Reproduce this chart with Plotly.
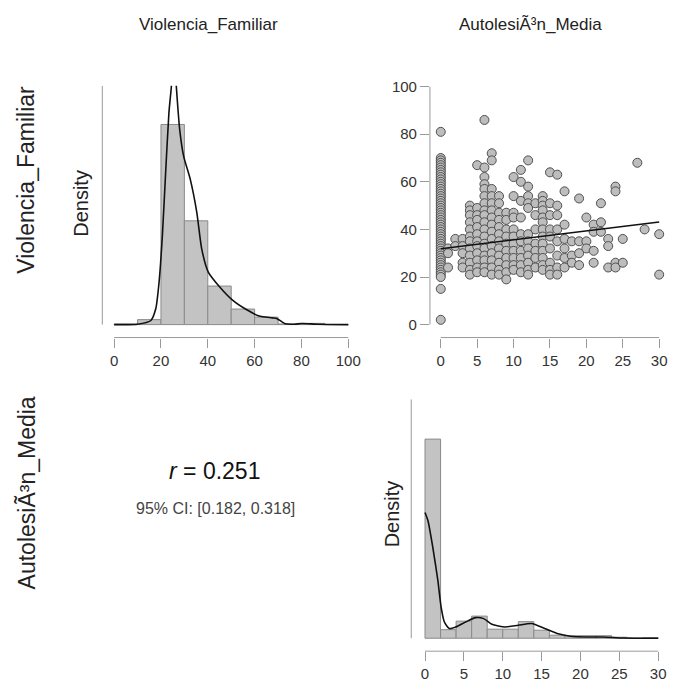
import plotly.graph_objects as go

W, H = 681, 691

# ---------------- data ----------------
# Violencia_Familiar histogram (bin width 10)
vf_bin_left = [0, 10, 20, 30, 40, 50, 60, 70, 80, 90]
vf_counts = [1, 8, 322, 167, 62, 25, 12, 1, 2, 0]
vf_bin_width = 10

# Violencia_Familiar density curve
vf_dens_x = [0, 10, 15.7, 17.8, 19.2, 20.6, 22, 23.4, 24.4, 25.5, 26.6, 28, 29.7, 32.5,
             35.3, 37.4, 40.2, 45.1, 50.7, 56.3, 61.9, 67.5, 69.6, 73.1, 77, 80.1, 87, 100]
vf_dens_y = [0.0, 0.0001, 0.0011, 0.0043, 0.0114, 0.0238, 0.0408, 0.0568, 0.0635, 0.0745,
             0.0635, 0.0523, 0.0451, 0.0390, 0.0301, 0.0203, 0.0141, 0.0101, 0.0065, 0.0041,
             0.0023, 0.0018, 0.0016, 0.0002, 0.0001, 0.0003, 0.0001, 0.0]

# Autolesion_Media histogram (bin width 2)
am_bin_left = [0, 2, 4, 6, 8, 10, 12, 14, 16, 18, 20, 22, 24, 26, 28]
am_counts = [396, 17, 34, 44, 18, 18, 33, 16, 6, 5, 5, 5, 2, 0, 1]
am_bin_width = 2

am_dens_x = [0, 0.38, 1.0, 1.65, 2.07, 2.49, 3.12, 3.96, 5.23, 6.5, 7.55, 8.6, 10.3, 12.0,
             13.7, 15.4, 17.0, 18.7, 20.8, 22.9, 25.5, 30]
am_dens_y = [0.2084, 0.1947, 0.1506, 0.0957, 0.0516, 0.0269, 0.0160, 0.0186, 0.0269, 0.0342,
             0.0325, 0.0231, 0.0186, 0.0215, 0.0243, 0.0160, 0.0078, 0.0033, 0.0021, 0.0021,
             0.0003, 0.0]

# Scatter: (Autolesion_Media, Violencia_Familiar) pairs
scatter_pairs = [
    (0, 81), (0, 70), (0, 69), (0, 68), (0, 67), (0, 66), (0, 65), (0, 64), (0, 63), (0, 62),
    (0, 61), (0, 60), (0, 59), (0, 58), (0, 57), (0, 56), (0, 55), (0, 54), (0, 53), (0, 52),
    (0, 51), (0, 50), (0, 49), (0, 48), (0, 47), (0, 46), (0, 45), (0, 44), (0, 43), (0, 42),
    (0, 41), (0, 40), (0, 39), (0, 38), (0, 37), (0, 36), (0, 35), (0, 34), (0, 33), (0, 32),
    (0, 31), (0, 30), (0, 29), (0, 28), (0, 27), (0, 26), (0, 25), (0, 24), (0, 23), (0, 22),
    (0, 21), (0, 20), (0, 15), (0, 2),
    (1, 32), (1, 30), (1, 24),
    (2, 36), (2, 33),
    (3, 36), (3, 33), (3, 30), (3, 26), (3, 24),
    (4, 50), (4, 48), (4, 46), (4, 43), (4, 40), (4, 37), (4, 35), (4, 32), (4, 29), (4, 26),
    (4, 23), (4, 21),
    (5, 67), (5, 49), (5, 46), (5, 44), (5, 41), (5, 38), (5, 35), (5, 33), (5, 30), (5, 27),
    (5, 24), (5, 22),
    (6, 86), (6, 66), (6, 62), (6, 59), (6, 57), (6, 54), (6, 51), (6, 48), (6, 46), (6, 43),
    (6, 40), (6, 37), (6, 34), (6, 32), (6, 29), (6, 27), (6, 24), (6, 22),
    (7, 72), (7, 69), (7, 57), (7, 54), (7, 51), (7, 48), (7, 45), (7, 42), (7, 39), (7, 36),
    (7, 33), (7, 30), (7, 27), (7, 24), (7, 21),
    (8, 54), (8, 51), (8, 47), (8, 44), (8, 41), (8, 38), (8, 35), (8, 32), (8, 29), (8, 26),
    (8, 23), (8, 21),
    (9, 47), (9, 44), (9, 40), (9, 37), (9, 34), (9, 31), (9, 28), (9, 25), (9, 22), (9, 19),
    (10, 62), (10, 54), (10, 47), (10, 45), (10, 40), (10, 37), (10, 34), (10, 31), (10, 28),
    (10, 25), (10, 23),
    (11, 65), (11, 60), (11, 52), (11, 45), (11, 38), (11, 35), (11, 31), (11, 28), (11, 25),
    (11, 22),
    (12, 69), (12, 58), (12, 54), (12, 51), (12, 49), (12, 38), (12, 35), (12, 32), (12, 29),
    (12, 26), (12, 23), (12, 21),
    (13, 51), (13, 46), (13, 40), (13, 34), (13, 31), (13, 28), (13, 24),
    (14, 54), (14, 52), (14, 50), (14, 48), (14, 45), (14, 43), (14, 40), (14, 37), (14, 34),
    (14, 31), (14, 28), (14, 25), (14, 23),
    (15, 64), (15, 51), (15, 46), (15, 40), (15, 37), (15, 32), (15, 26), (15, 23), (15, 21),
    (16, 63), (16, 50), (16, 46), (16, 40), (16, 35), (16, 29), (16, 24), (16, 21),
    (17, 56), (17, 42), (17, 36), (17, 32), (17, 28), (17, 24),
    (18, 35), (18, 29), (18, 26),
    (19, 53), (19, 35), (19, 30), (19, 25),
    (20, 45), (20, 35), (20, 32),
    (21, 42), (21, 39), (21, 31), (21, 26),
    (22, 51), (22, 43), (22, 39),
    (23, 36), (23, 33), (23, 24),
    (24, 58), (24, 56), (24, 26), (24, 24),
    (25, 36), (25, 26),
    (27, 68), (28, 40), (30, 38), (30, 21),
]
scatter_x = [p[0] for p in scatter_pairs]
scatter_y = [p[1] for p in scatter_pairs]

# regression line end points
fit_x = [0, 30]
fit_y = [31.9, 43.1]

r_text = "0.251"
ci_text = "95% CI: [0.182, 0.318]"
col_titles = ["Violencia_Familiar", "AutolesiÃ³n_Media"]

vf_ticks = [0, 20, 40, 60, 80, 100]
am_ticks = [0, 5, 10, 15, 20, 25, 30]
scatter_yticks = [0, 20, 40, 60, 80, 100]

# ---------------- helpers ----------------
def xdom(l, r):
    return [l / W, r / W]

def ydom(top, bottom):
    return [1 - bottom / H, 1 - top / H]

def lin_range(p_lo, p_hi, v_a, p_a, v_b, p_b):
    s = (v_b - v_a) / (p_b - p_a)
    return [v_a + (p_lo - p_a) * s, v_a + (p_hi - p_a) * s]

vf_N = sum(vf_counts)
vf_dens = [c / (vf_N * vf_bin_width) for c in vf_counts]
vf_centers = [b + vf_bin_width / 2 for b in vf_bin_left]
am_N = sum(am_counts)
am_dens = [c / (am_N * am_bin_width) for c in am_counts]
am_centers = [b + am_bin_width / 2 for b in am_bin_left]

# y top for histograms: tallest bar occupies 201/240 (top-left) and 200/240 (bottom-right)
vf_ymax = max(vf_dens) * 240 / 201
am_ymax = max(am_dens) * 240 / 200

FONT = "Liberation Sans, Arial, sans-serif"
AX_COL = "#9a9a9a"
BAR_FILL = "#c3c3c3"
BAR_LINE = "#8a8a8a"

fig = go.Figure()

# Top-left histogram
fig.add_trace(go.Bar(x=vf_centers, y=vf_dens, width=vf_bin_width,
                     marker=dict(color=BAR_FILL, line=dict(color=BAR_LINE, width=1)),
                     xaxis="x", yaxis="y", hoverinfo="skip"))
fig.add_trace(go.Scatter(x=vf_dens_x, y=vf_dens_y, mode="lines",
                         line=dict(color="#111111", width=1.6, shape="spline", smoothing=0.6),
                         xaxis="x", yaxis="y", hoverinfo="skip"))

# Scatter
fig.add_trace(go.Scatter(x=scatter_x, y=scatter_y, mode="markers",
                         marker=dict(size=9, color="#bdbdbd",
                                     line=dict(color="#505050", width=1)),
                         xaxis="x2", yaxis="y2", cliponaxis=False, hoverinfo="skip"))
fig.add_trace(go.Scatter(x=fit_x, y=fit_y, mode="lines",
                         line=dict(color="#111111", width=1.5),
                         xaxis="x2", yaxis="y2", hoverinfo="skip"))

# Bottom-right histogram
fig.add_trace(go.Bar(x=am_centers, y=am_dens, width=am_bin_width,
                     marker=dict(color=BAR_FILL, line=dict(color=BAR_LINE, width=1)),
                     xaxis="x3", yaxis="y3", hoverinfo="skip"))
fig.add_trace(go.Scatter(x=am_dens_x, y=am_dens_y, mode="lines",
                         line=dict(color="#111111", width=1.6, shape="spline", smoothing=0.6),
                         xaxis="x3", yaxis="y3", hoverinfo="skip"))

tick_common = dict(ticks="outside", ticklen=9, tickwidth=1, tickcolor=AX_COL,
                   tickfont=dict(family=FONT, size=15, color="#333333"),
                   showline=False, showgrid=False, zeroline=False, fixedrange=True)
hidden_y = dict(showticklabels=False, ticks="", showline=False, showgrid=False,
                zeroline=False, fixedrange=True)

fig.update_layout(
    width=W, height=H, margin=dict(l=0, r=0, t=0, b=0),
    paper_bgcolor="white", plot_bgcolor="white", showlegend=False,
    bargap=0,
    xaxis=dict(domain=xdom(104, 356), range=lin_range(104, 356, 0, 116, 100, 354),
               tickvals=vf_ticks, anchor="y", **tick_common),
    yaxis=dict(domain=ydom(83, 336), range=[-vf_ymax * 13 / 240, vf_ymax],
               anchor="x", **hidden_y),
    xaxis2=dict(domain=xdom(437, 674), range=lin_range(437, 674, 0, 448, 30, 670),
                tickvals=am_ticks, anchor="y2", **tick_common),
    yaxis2=dict(domain=ydom(78, 336), range=lin_range(336, 78, 0, 323, 100, 84),
                tickvals=scatter_yticks, anchor="x2", **tick_common),
    xaxis3=dict(domain=xdom(418, 673), range=lin_range(418, 673, 0, 432, 30, 669),
                tickvals=am_ticks, anchor="y3", **tick_common),
    yaxis3=dict(domain=ydom(398, 651), range=[-am_ymax * 13 / 240, am_ymax],
                anchor="x3", **hidden_y),
)

line = dict(color=AX_COL, width=1)
shapes = [
    dict(type="line", xref="x", yref="y domain", x0=vf_ticks[0], x1=vf_ticks[-1], y0=0, y1=0, line=line),
    dict(type="line", xref="x domain", yref="y", x0=0, x1=0, y0=0, y1=vf_ymax, line=line),
    dict(type="line", xref="x2", yref="y2 domain", x0=am_ticks[0], x1=am_ticks[-1], y0=0, y1=0, line=line),
    dict(type="line", xref="x2 domain", yref="y2", x0=0, x1=0, y0=scatter_yticks[0], y1=scatter_yticks[-1], line=line),
    dict(type="line", xref="x3", yref="y3 domain", x0=am_ticks[0], x1=am_ticks[-1], y0=0, y1=0, line=line),
    dict(type="line", xref="x3 domain", yref="y3", x0=0, x1=0, y0=0, y1=am_ymax, line=line),
]
fig.update_layout(shapes=shapes)

def ann(text, px, py, size, color="#222222", angle=0):
    return dict(text=text, x=px / W, y=1 - py / H, xref="paper", yref="paper",
                xanchor="center", yanchor="middle", showarrow=False, textangle=angle,
                font=dict(family=FONT, size=size, color=color))

annotations = [
    ann(col_titles[0], 212, 22, 17),
    ann(col_titles[1], 539, 22, 17),
    ann(col_titles[0], 27, 178, 23, angle=-90),
    ann(col_titles[1], 27, 492, 23, angle=-90),
    ann("Density", 82, 201, 20, angle=-90),
    ann("Density", 398, 513, 20, angle=-90),
    ann("<i>r</i> = " + r_text, 218, 470, 23, color="#111111"),
    ann(ci_text, 219, 508, 16, color="#444444"),
]
fig.update_layout(annotations=annotations)

fig.write_html("out.html", include_plotlyjs=True, full_html=True,
               config={"displayModeBar": False, "staticPlot": True},
               post_script="document.body.style.margin='0px';")
